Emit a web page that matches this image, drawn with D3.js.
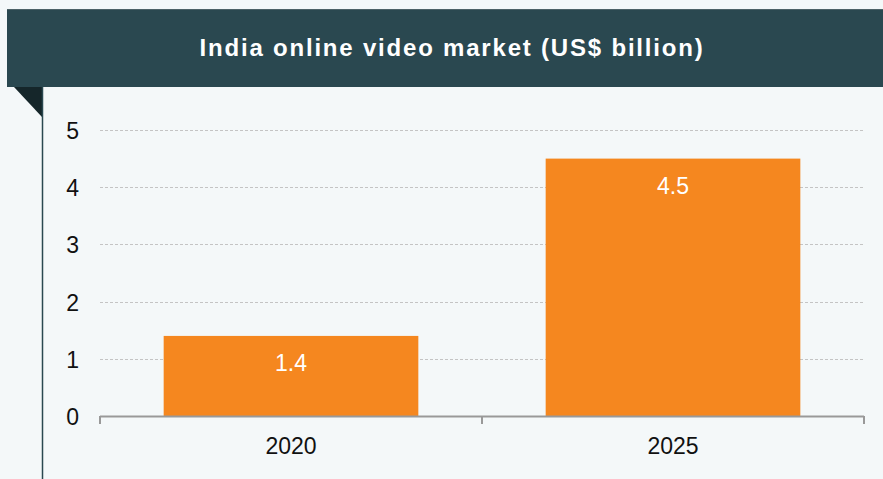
<!DOCTYPE html>
<html>
<head>
<meta charset="utf-8">
<script src="https://cdn.jsdelivr.net/npm/d3@7"></script>
<style>
  html, body { margin: 0; padding: 0; background: #f4f8f9; }
  svg { display: block; }
  text { font-family: "Liberation Sans", Arial, sans-serif; }
</style>
</head>
<body>
<svg id="chart" width="883" height="479"></svg>
<script>
// Chart data
const title = "India online video market (US$ billion)";
const years = ["2020", "2025"];
const values = [1.4, 4.5];
const yTicks = [0, 1, 2, 3, 4, 5];

const W = 883, H = 479;
const svg = d3.select("#chart");

svg.append("rect").attr("width", W).attr("height", H).attr("fill", "#f4f8f9");

// Header banner with folded corner
svg.append("rect")
  .attr("x", 7).attr("y", 9).attr("width", W - 7).attr("height", 78)
  .attr("fill", "#2a4850");
svg.append("line")
  .attr("x1", 7).attr("x2", W).attr("y1", 9.5).attr("y2", 9.5)
  .attr("stroke", "#4d6267").attr("stroke-width", 1);
svg.append("path")
  .attr("d", "M14,87 L42,87 L42,117 Z")
  .attr("fill", "#15262a");
svg.append("line")
  .attr("x1", 42.5).attr("x2", 42.5).attr("y1", 87).attr("y2", H)
  .attr("stroke", "#2a4850").attr("stroke-width", 1.5);

svg.append("text")
  .attr("x", 452).attr("y", 56)
  .attr("text-anchor", "middle")
  .attr("fill", "#ffffff")
  .attr("font-size", 24).attr("font-weight", "bold")
  .attr("letter-spacing", "1.8px")
  .text(title);

// Scales
const margin = { left: 100, right: 864, top: 130, bottom: 416 };
const x = d3.scaleBand().domain(years)
  .range([margin.left, margin.right])
  .paddingInner(1 / 3).paddingOuter(1 / 6);
const y = d3.scaleLinear().domain([0, 5]).range([margin.bottom, margin.top]);

// Gridlines
svg.append("g").selectAll("line")
  .data(yTicks.filter(d => d > 0))
  .join("line")
  .attr("x1", margin.left).attr("x2", margin.right)
  .attr("y1", d => Math.round(y(d)) + 0.5).attr("y2", d => Math.round(y(d)) + 0.5)
  .attr("stroke", "#c4c4c4").attr("stroke-width", 1)
  .attr("stroke-dasharray", "3,2");

// Y axis labels
const yAxis = d3.axisLeft(y).tickValues(yTicks).tickSize(0).tickPadding(0).tickFormat(d3.format("d"));
const gy = svg.append("g").attr("transform", "translate(79,0)").call(yAxis);
gy.select(".domain").remove();
gy.selectAll("text")
  .attr("dy", null).attr("y", 8.5)
  .attr("font-size", 23).attr("fill", "#111").attr("font-family", "Liberation Sans, Arial, sans-serif");

// Bars
svg.append("g").selectAll("rect")
  .data(values)
  .join("rect")
  .attr("x", (d, i) => x(years[i]))
  .attr("width", x.bandwidth())
  .attr("y", d => y(d))
  .attr("height", d => y(0) - y(d))
  .attr("fill", "#f5871f");

// Value labels inside bars
svg.append("g").selectAll("text")
  .data(values)
  .join("text")
  .attr("x", (d, i) => x(years[i]) + x.bandwidth() / 2)
  .attr("y", d => y(d) + 35)
  .attr("text-anchor", "middle")
  .attr("fill", "#ffffff")
  .attr("font-size", 23)
  .text(d => d3.format(".1f")(d));

// X axis with boundary ticks
const axisG = svg.append("g");
axisG.append("line")
  .attr("x1", margin.left).attr("x2", margin.right)
  .attr("y1", margin.bottom + 0.5).attr("y2", margin.bottom + 0.5)
  .attr("stroke", "#999999").attr("stroke-width", 2);
const bounds = [margin.left, (margin.left + margin.right) / 2, margin.right];
axisG.selectAll("line.tick")
  .data(bounds)
  .join("line")
  .attr("class", "tick")
  .attr("x1", d => d).attr("x2", d => d)
  .attr("y1", margin.bottom).attr("y2", margin.bottom + 8)
  .attr("stroke", "#999999").attr("stroke-width", 2);

const xAxis = d3.axisBottom(x).tickSize(0).tickPadding(0);
const gx = svg.append("g").attr("transform", `translate(0,${margin.bottom})`).call(xAxis);
gx.select(".domain").remove();
gx.selectAll("text")
  .attr("dy", null).attr("y", 38)
  .attr("font-size", 23).attr("fill", "#111").attr("font-family", "Liberation Sans, Arial, sans-serif");
</script>
</body>
</html>
